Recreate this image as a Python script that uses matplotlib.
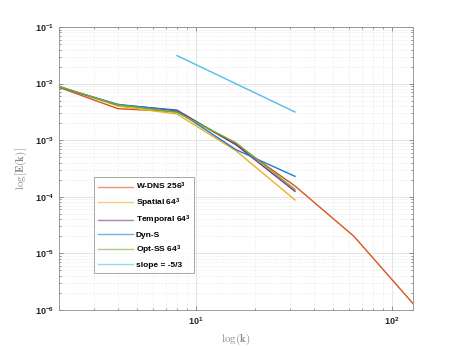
import numpy as np
import matplotlib
matplotlib.use('Agg')
import matplotlib.pyplot as plt

# wavenumbers
k_dns = np.array([2, 4, 8, 16, 32, 64, 128])
k_les = np.array([2, 4, 8, 16, 32])
k_slope = np.array([8, 32])

# energy spectra
E_dns = np.array([8.6e-3, 3.6e-3, 3.2e-3, 8.5e-4, 1.55e-4, 2.0e-5, 1.3e-6])
E_spatial = np.array([9.0e-3, 4.0e-3, 2.9e-3, 6.5e-4, 8.8e-5])
E_temporal = np.array([8.8e-3, 4.2e-3, 3.4e-3, 8.3e-4, 1.25e-4])
E_dyns = np.array([8.7e-3, 4.3e-3, 3.3e-3, 6.8e-4, 2.3e-4])
E_optss = np.array([8.9e-3, 4.2e-3, 3.1e-3, 9.0e-4, 1.35e-4])
E_slope = np.array([3.125e-2, 3.15e-3])

labels = [r'W-DNS $\mathbf{256^3}$', r'Spatial $\mathbf{64^3}$',
          r'Temporal $\mathbf{64^3}$', 'Dyn-S',
          r'Opt-SS $\mathbf{64^3}$', 'slope = -5/3']

plt.rcParams['font.family'] = 'Liberation Sans'
plt.rcParams['mathtext.fontset'] = 'custom'
plt.rcParams['mathtext.rm'] = 'Liberation Sans'
plt.rcParams['mathtext.bf'] = 'Liberation Sans:bold'

fig = plt.figure(figsize=(4.57, 3.49), dpi=100)
ax = fig.add_axes([59/457, 1-310/349, 354/457, 283/349])

lw = 1.0
ax.loglog(k_dns, E_dns, color=(0.85, 0.325, 0.098), lw=lw, label=labels[0])
ax.loglog(k_les, E_spatial, color=(0.929, 0.694, 0.125), lw=lw, label=labels[1])
ax.loglog(k_les, E_temporal, color=(0.494, 0.184, 0.556), lw=lw, label=labels[2])
ax.loglog(k_les, E_dyns, color=(0.1, 0.5, 0.8), lw=lw, label=labels[3])
ax.loglog(k_les, E_optss, color=(0.466, 0.674, 0.188), lw=lw, label=labels[4])
ax.loglog(k_slope, E_slope, color=(0.301, 0.745, 0.933), lw=lw, label=labels[5])

ax.set_xlim(2, 128)
ax.set_ylim(1e-6, 1e-1)

ax.grid(True, which='major', color=(0.88, 0.88, 0.88), lw=0.6, ls='-')
ax.grid(True, which='minor', color=(0.88, 0.88, 0.88), lw=0.5, ls=':')
ax.set_axisbelow(True)

for s in ax.spines.values():
    s.set_color((0.55, 0.55, 0.55))
    s.set_linewidth(0.6)
ax.tick_params(which='both', direction='in', top=True, right=True,
               colors=(0.4, 0.4, 0.4), labelcolor=(0.15, 0.15, 0.15),
               labelsize=6.5, width=0.5)
ax.tick_params(which='major', length=3)
ax.tick_params(which='minor', length=1.5)
for t in ax.get_xticklabels(which='both') + ax.get_yticklabels(which='both'):
    t.set_fontweight('bold')

gray = (0.55, 0.55, 0.55)
ax.set_xlabel(r'$\log(\mathbf{k})$', fontsize=8, color=gray, math_fontfamily='cm')
ax.set_ylabel(r'$\log[\mathbf{E}(\mathbf{k})]$', fontsize=8, color=gray,
              math_fontfamily='cm')

leg = ax.legend(loc='lower left', bbox_to_anchor=(0.099, 0.131), fontsize=6,
                frameon=True, fancybox=False, handlelength=4.2,
                labelspacing=0.5, borderpad=0.5, handletextpad=0.3,
                borderaxespad=0)
leg.get_frame().set_edgecolor((0.5, 0.5, 0.5))
leg.get_frame().set_linewidth(0.6)
for t in leg.get_texts():
    t.set_fontweight('bold')
for h in leg.get_lines():
    h.set_alpha(0.6)

fig.savefig('out.png', dpi=100)
